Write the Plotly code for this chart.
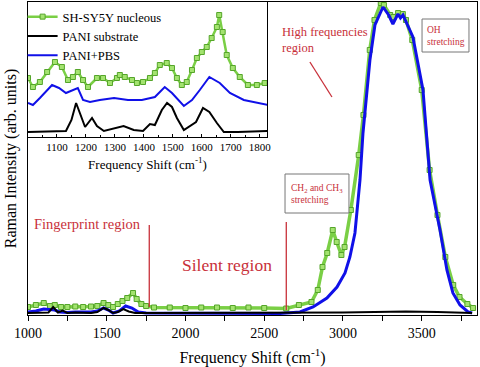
import plotly.graph_objects as go

# ---------------- main spectra (arb. units) ----------------
green_x = [1000, 1050, 1100, 1140, 1170, 1210, 1250, 1300, 1350, 1400, 1440, 1480, 1510, 1540, 1570,
           1600, 1630, 1667, 1690, 1720, 1750, 1800, 1900, 2000, 2100, 2200, 2300, 2400, 2500, 2640,
           2720, 2800, 2840, 2870, 2900, 2935, 2960, 2990, 3010, 3050, 3100, 3130, 3170, 3200, 3240,
           3260, 3300, 3320, 3350, 3380, 3400, 3440, 3500, 3550, 3600, 3650, 3700, 3740, 3790, 3826]
green_y = [8, 10, 12, 9, 10, 8, 8, 8.5, 8, 8.5, 9, 12, 10, 8, 11,
           14, 17, 22, 16, 11, 9, 7.5, 7.5, 7, 7.5, 7.5, 7, 7.5, 7, 6.5,
           10, 13, 25, 48, 62, 85, 73, 60, 68, 105, 160, 200, 265, 295, 312,
           310, 300, 298, 302, 301, 295, 275, 225, 145, 100, 58, 30, 18, 11, 7]

blue_x = [1000, 1050, 1100, 1140, 1170, 1200, 1250, 1300, 1400, 1440, 1480, 1510, 1540, 1580, 1620,
          1660, 1700, 1750, 1800, 2000, 2200, 2400, 2600, 2727, 2810, 2898, 2962, 3013, 3044, 3076,
          3108, 3127, 3171, 3203, 3254, 3290, 3317, 3349, 3365, 3381, 3444, 3508, 3553, 3616, 3660,
          3698, 3743, 3794, 3820]
blue_y = [3, 4, 6, 5, 5, 3, 2.5, 3, 3, 4, 7, 5, 2, 4, 9,
          7, 3, 2, 2, 1.5, 1.5, 1.5, 1.5, 3, 8, 17, 28, 42, 58, 82,
          135, 182, 255, 290, 308, 300, 291, 301, 297, 300, 278, 225, 135, 85, 45,
          22, 10, 3, 2]

black_x = [1000, 1130, 1160, 1190, 1220, 1250, 1300, 1400, 1440, 1480, 1510, 1540, 1570, 1605, 1640,
           1680, 1800, 2200, 2600, 3000, 3200, 3400, 3600, 3750, 3820]
black_y = [2, 2.5, 8, 2.5, 4.5, 2, 2.5, 2, 3, 7, 5, 2, 3, 6, 3.5,
           2, 2, 2, 2, 2.5, 3, 3.5, 3, 2.5, 2]

# ---------------- inset spectra (offset, arb. units) ----------------
in_green_x = [1000, 1017, 1041, 1066, 1093, 1117, 1138, 1155, 1172, 1190, 1207, 1238, 1259, 1283,
              1307, 1317, 1334, 1359, 1376, 1397, 1421, 1438, 1455, 1479, 1497, 1514, 1531, 1548,
              1566, 1583, 1600, 1617, 1634, 1652, 1660, 1672, 1686, 1707, 1731, 1759, 1790, 1817]
in_green_y = [59, 50, 55, 65, 75, 70, 57, 60, 65, 57, 50, 59, 59, 54,
              59, 62, 60, 57, 54, 55, 59, 64, 72, 74, 69, 59, 52, 55,
              67, 79, 85, 90, 99, 110, 122, 105, 82, 69, 60, 52, 52, 54]

in_blue_x = [1000, 1017, 1041, 1083, 1107, 1131, 1172, 1190, 1214, 1248, 1297, 1345, 1393, 1438,
             1472, 1497, 1538, 1566, 1593, 1626, 1662, 1697, 1745, 1793, 1830]
in_blue_y = [34, 32, 39, 52, 49, 44, 49, 37, 35, 37, 39, 37, 37, 40,
             50, 44, 31, 37, 47, 60, 54, 44, 37, 34, 32]

in_black_x = [1000, 1131, 1150, 1166, 1179, 1197, 1221, 1238, 1262, 1300, 1330, 1365, 1397, 1421,
              1438, 1462, 1480, 1497, 1514, 1538, 1562, 1580, 1604, 1626, 1652, 1676, 1724, 1830]
in_black_y = [5, 6, 17, 34, 24, 10, 19, 11, 6, 9, 11, 7, 6, 13,
              12, 27, 34, 30, 19, 7, 12, 15, 29, 25, 14, 5, 5, 6]

names = ["SH-SY5Y nucleous", "PANI substrate", "PANI+PBS"]
main_ticks = [1000, 1500, 2000, 2500, 3000, 3500]
inset_ticks = [1100, 1200, 1300, 1400, 1500, 1600, 1700, 1800]

RED = "#C8303A"
GREEN_LINE = "#7ACF45"
GREEN_FILL = "#A3E36F"
GREEN_EDGE = "#55A52A"
BLUE = "#1010E8"
FONT = "Liberation Serif"

fig = go.Figure()

# main traces
fig.add_trace(go.Scatter(x=green_x, y=green_y, mode="lines+markers", showlegend=False,
                         line=dict(color=GREEN_LINE, width=3.5),
                         marker=dict(symbol="square", size=5, color=GREEN_FILL,
                                     line=dict(color=GREEN_EDGE, width=1))))
fig.add_trace(go.Scatter(x=blue_x, y=blue_y, mode="lines", showlegend=False,
                         line=dict(color=BLUE, width=3)))
fig.add_trace(go.Scatter(x=black_x, y=black_y, mode="lines", showlegend=False,
                         line=dict(color="black", width=2)))

# inset traces
fig.add_trace(go.Scatter(x=in_green_x, y=in_green_y, mode="lines+markers", name=names[0],
                         xaxis="x2", yaxis="y2", legendrank=1,
                         line=dict(color=GREEN_LINE, width=2.5),
                         marker=dict(symbol="square", size=5, color=GREEN_FILL,
                                     line=dict(color=GREEN_EDGE, width=1))))
fig.add_trace(go.Scatter(x=in_blue_x, y=in_blue_y, mode="lines", name=names[2],
                         xaxis="x2", yaxis="y2", legendrank=3,
                         line=dict(color=BLUE, width=2)))
fig.add_trace(go.Scatter(x=in_black_x, y=in_black_y, mode="lines", name=names[1],
                         xaxis="x2", yaxis="y2", legendrank=2,
                         line=dict(color="black", width=2)))

inset_bottom = (315 - 137) / 313
inset_right = (267 - 28) / 449

fig.update_layout(
    width=480, height=367,
    margin=dict(l=28, r=3, t=2, b=52, autoexpand=False),
    paper_bgcolor="white", plot_bgcolor="white",
    font=dict(family=FONT, color="black"),
    xaxis=dict(range=[1000, 3851], domain=[0, 1], tickvals=main_ticks, automargin=False,
               ticks="outside", ticklen=5, tickcolor="black",
               minor=dict(tickvals=[1250, 1750, 2250, 2750, 3250, 3750], ticks="outside",
                          ticklen=5, tickcolor="black"),
               showline=True, linecolor="black", linewidth=1, mirror=True,
               showgrid=False, zeroline=False, tickfont=dict(size=14),
               title=dict(text="Frequency Shift (cm<sup>-1</sup>)", font=dict(size=16), standoff=12)),
    yaxis=dict(range=[0, 313], domain=[0, 1], showticklabels=False, ticks="", automargin=False,
               showline=True, linecolor="black", linewidth=1, mirror=True,
               showgrid=False, zeroline=False,
               title=dict(text="Raman Intensity (arb. units)", font=dict(size=16), standoff=6)),
    xaxis2=dict(range=[1000, 1825], domain=[0, inset_right], anchor="y2", automargin=False,
                tickvals=inset_ticks, ticks="inside", ticklen=3, tickcolor="black",
                minor=dict(tickvals=[1050, 1150, 1250, 1350, 1450, 1550, 1650, 1750],
                           ticks="inside", ticklen=2, tickcolor="black"),
                showline=True, linecolor="black", linewidth=1, mirror=True,
                showgrid=False, zeroline=False, tickfont=dict(size=11),
                title=dict(text="Frequency Shift (cm<sup>-1</sup>)", font=dict(size=13), standoff=7)),
    yaxis2=dict(range=[0, 135], domain=[inset_bottom, 1], anchor="x2", automargin=False,
                showticklabels=False, ticks="", showline=True, linecolor="black",
                linewidth=1, mirror=True, showgrid=False, zeroline=False),
    legend=dict(x=-0.012, y=1.0, xanchor="left", yanchor="top", bgcolor="rgba(0,0,0,0)",
                font=dict(size=12.5, family=FONT), tracegroupgap=0, itemwidth=30),
)

# red marker lines
fig.add_shape(type="line", x0=1770, x1=1770, y0=8, y1=90, xref="x", yref="y",
              line=dict(color=RED, width=1.3))
fig.add_shape(type="line", x0=2640, x1=2640, y0=5, y1=93, xref="x", yref="y",
              line=dict(color=RED, width=1.3))
fig.add_shape(type="line", x0=2790, x1=2930, y0=253, y1=218, xref="x", yref="y",
              line=dict(color=RED, width=1.3))

# boxes
fig.add_shape(type="rect", x0=3502, x1=3800, y0=263, y1=296, xref="x", yref="y",
              line=dict(color="#777777", width=1), fillcolor="white")
fig.add_shape(type="rect", x0=2632, x1=3038, y0=102, y1=141, xref="x", yref="y",
              line=dict(color="#777777", width=1), fillcolor="white")

fig.add_annotation(x=2600, y=275, xref="x", yref="y", xanchor="left", yanchor="middle",
                   text="High frequencies<br>region", showarrow=False, align="left",
                   font=dict(size=12.5, color=RED, family=FONT))
fig.add_annotation(x=3522, y=279.5, xref="x", yref="y", xanchor="left", yanchor="middle",
                   text="OH<br>stretching", showarrow=False, align="left",
                   font=dict(size=9.5, color=RED, family=FONT))
fig.add_annotation(x=2660, y=121, xref="x", yref="y", xanchor="left", yanchor="middle",
                   text="CH<sub>2</sub> and CH<sub>3</sub><br>stretching", showarrow=False,
                   align="left", font=dict(size=9.5, color=RED, family=FONT))
fig.add_annotation(x=1025, y=91, xref="x", yref="y", xanchor="left", yanchor="middle",
                   text="Fingerprint region", showarrow=False,
                   font=dict(size=14.5, color=RED, family=FONT))
fig.add_annotation(x=1965, y=50, xref="x", yref="y", xanchor="left", yanchor="middle",
                   text="Silent region", showarrow=False,
                   font=dict(size=17.5, color=RED, family=FONT))

fig.write_html("out.html", config={"displayModeBar": False},
               post_script="document.body.style.margin='0';document.body.style.overflow='hidden';")
